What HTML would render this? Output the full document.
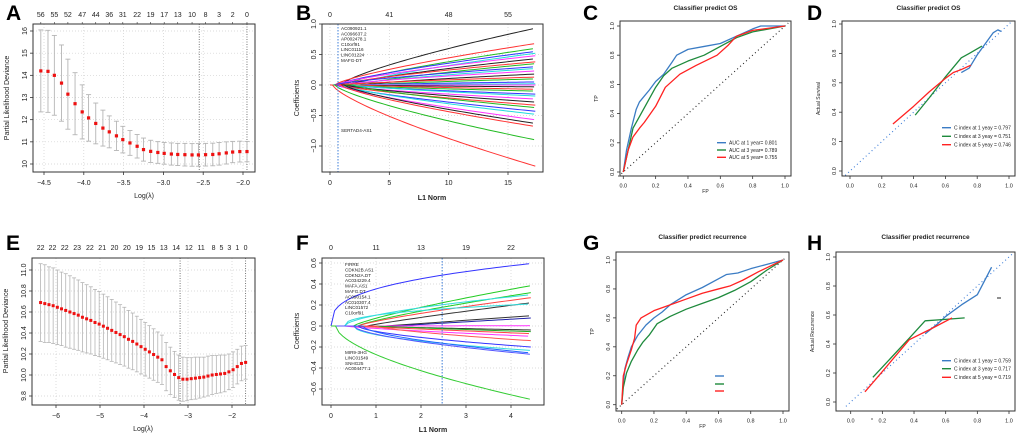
<!DOCTYPE html>
<html><head><meta charset="utf-8"><style>
html,body{margin:0;padding:0;background:#fff;}
svg{display:block;font-family:"Liberation Sans",Arial,sans-serif;}
</style></head><body>
<svg id="fig" width="1020" height="437" viewBox="0 0 1020 437" xmlns="http://www.w3.org/2000/svg"></svg>
<script>
// ---------- data ----------
const aLogLambda=[-4.54,-4.45,-4.37,-4.28,-4.20,-4.11,-4.02,-3.94,-3.85,-3.76,-3.68,-3.59,-3.51,-3.42,-3.33,-3.25,-3.16,-3.07,-2.99,-2.90,-2.82,-2.73,-2.64,-2.56,-2.47,-2.38,-2.30,-2.21,-2.13,-2.04,-1.95];
const aMean=[14.2,14.18,14.0,13.65,13.15,12.72,12.35,12.08,11.83,11.62,11.45,11.27,11.1,10.95,10.8,10.65,10.57,10.52,10.48,10.45,10.43,10.42,10.41,10.41,10.42,10.43,10.46,10.5,10.54,10.56,10.56];
const aSE=[1.85,1.85,1.8,1.72,1.58,1.4,1.22,1.05,0.92,0.81,0.72,0.66,0.6,0.56,0.53,0.52,0.5,0.49,0.49,0.5,0.5,0.51,0.51,0.51,0.51,0.51,0.51,0.5,0.48,0.47,0.46];
const aTop=['56','55','52','47','44','36','31','22','19','17','13','10','8','3','2','0'];
const aXTicks=[-4.5,-4.0,-3.5,-3.0,-2.5,-2.0];
const aYTicks=[10,11,12,13,14,15,16];
const aVlines=[-2.55,-1.95];

const bEnds=[0.93,0.68,0.6,0.55,0.52,0.48,0.43,0.38,0.35,0.3,0.27,0.23,0.18,0.13,0.1,0.05,0.02,0,-0.03,-0.07,-0.1,-0.15,-0.18,-0.23,-0.28,-0.33,-0.37,-0.43,-0.48,-0.57,-0.63,-0.68,-0.9,-1.33];
const bStarts=[0.9,0.4,1.2,0.6,2.0,0.5,1.5,0.8,2.5,0.3,1.8,1.0,2.8,0.7,3.0,2.2,1.4,2.6,1.6,2.4,0.9,1.1,2.0,0.6,1.3,0.8,1.9,0.5,1.0,0.7,1.2,0.9,0.4,0.2];
const bGenes=['AC090921.1','AC096637.2','AP002478.1','C10orf91','LINC01116','LINC01224','MAFG-DT'];
const bTop=['0','41','48','55'];

const eMean=[10.69,10.68,10.67,10.66,10.645,10.63,10.615,10.60,10.585,10.57,10.55,10.535,10.52,10.50,10.485,10.465,10.445,10.425,10.405,10.385,10.365,10.34,10.32,10.295,10.27,10.245,10.22,10.195,10.17,10.145,10.08,10.04,10.005,9.975,9.96,9.96,9.965,9.97,9.975,9.98,9.99,10.0,10.005,10.01,10.015,10.03,10.05,10.08,10.11,10.12];
const eSE=[0.37,0.37,0.36,0.36,0.355,0.35,0.35,0.345,0.34,0.335,0.33,0.325,0.32,0.315,0.31,0.305,0.3,0.295,0.29,0.285,0.28,0.275,0.27,0.265,0.26,0.255,0.25,0.245,0.24,0.235,0.23,0.225,0.22,0.215,0.21,0.205,0.2,0.2,0.195,0.19,0.19,0.185,0.18,0.18,0.175,0.17,0.17,0.165,0.165,0.16];
const eStart=-6.35, eStep=0.0951;
const eTopPos=[-6.35,-6.08,-5.80,-5.52,-5.23,-4.95,-4.67,-4.39,-4.11,-3.83,-3.55,-3.27,-2.98,-2.70,-2.42,-2.24,-2.06,-1.88,-1.69];
const eTop=['22','22','22','23','22','21','20','20','19','15','13','14','12','11','8','5','3','1','0'];
const eXTicks=[-6,-5,-4,-3,-2];
const eYTicks=[9.8,10.0,10.2,10.4,10.6,10.8,11.0];
const eVlines=[-3.18,-1.69];

const fEnds=[0.595,0.385,0.318,0.298,0.27,0.222,0.21,0.098,0.076,0.003,-0.038,-0.054,-0.073,-0.098,-0.14,-0.2,-0.233,-0.257,-0.27,-0.7];
const fStarts=[0,0.5,0.6,0.3,0.6,0.8,0.3,1.2,1.4,0.5,0.6,1.0,0.4,0.3,1.0,0.6,0.5,0.7,0.5,0.1];
const fPow=[0.35,0.8,0.8,0.6,0.8,0.9,0.4,1,1,1,0.9,0.9,1,0.8,0.7,0.6,0.5,0.6,0.6,0.6];
const fColors=['#3333ff','#22cc22','#22cc22','#33dddd','#ff4444','#333333','#33dddd','#333333','#2222aa','#ff33ff','#333333','#22aa22','#ff4444','#ff33ff','#ff5555','#3333ff','#33dddd','#2266ff','#5555ff','#33cc33'];
const fGenes1=['FIRRE','CDKN2B.AS1','CDKN2A.DT','AC034229.4','MAFA.AS1','MAFG.DT','AC090154.1','AC010307.4','LINC01572','C10orf91'];
const fGenes2=['MIR9-3HG','LINC01549','SNHG25','AC004477.1'];
const fTop=['0','11','13','19','22'];

const cBlueFP=[0,0.02,0.05,0.08,0.1,0.13,0.16,0.2,0.25,0.3,0.33,0.4,0.5,0.6,0.7,0.8,0.85,1];
const cBlueTP=[0,0.15,0.3,0.43,0.48,0.52,0.56,0.62,0.67,0.75,0.8,0.84,0.86,0.88,0.93,0.98,1,1];
const cGreenFP=[0,0.03,0.06,0.1,0.15,0.2,0.25,0.3,0.4,0.5,0.6,0.7,0.8,1];
const cGreenTP=[0,0.15,0.3,0.38,0.48,0.58,0.66,0.71,0.76,0.8,0.86,0.92,0.96,1];
const cRedFP=[0,0.03,0.06,0.1,0.13,0.2,0.26,0.35,0.45,0.58,0.65,0.7,0.8,1];
const cRedTP=[0,0.15,0.24,0.3,0.34,0.45,0.58,0.67,0.73,0.8,0.87,0.93,0.97,1];
const cLegend=['AUC at 1 year= 0.801','AUC at 3 year= 0.789','AUC at 5 year= 0.755'];

const dBlueX=[0.7,0.75,0.8,0.9,0.93,0.95], dBlueY=[0.67,0.7,0.79,0.94,0.96,0.95];
const dGreenX=[0.41,0.5,0.6,0.7,0.75,0.83], dGreenY=[0.38,0.5,0.64,0.77,0.8,0.85];
const dRedX=[0.27,0.4,0.5,0.6,0.65,0.7,0.76], dRedY=[0.32,0.44,0.54,0.63,0.67,0.69,0.72];
const dLegend=['C index at 1 yeay = 0.797','C index at 3 yeay = 0.751','C index at 5 yeay = 0.746'];

const gBlueFP=[0,0.01,0.02,0.04,0.06,0.1,0.15,0.2,0.25,0.3,0.4,0.5,0.6,0.65,0.72,0.8,0.9,1];
const gBlueTP=[0,0.15,0.25,0.33,0.4,0.48,0.55,0.6,0.64,0.69,0.76,0.81,0.87,0.9,0.91,0.94,0.97,1];
const gGreenFP=[0,0.01,0.03,0.06,0.1,0.13,0.17,0.22,0.3,0.4,0.5,0.6,0.7,0.8,0.9,1];
const gGreenTP=[0,0.12,0.22,0.3,0.38,0.43,0.48,0.56,0.61,0.66,0.7,0.74,0.79,0.85,0.93,1];
const gRedFP=[0,0.01,0.03,0.06,0.08,0.09,0.12,0.2,0.3,0.4,0.5,0.6,0.67,0.75,0.85,1];
const gRedTP=[0,0.2,0.28,0.38,0.46,0.55,0.6,0.65,0.69,0.73,0.77,0.8,0.82,0.86,0.92,1];

const hBlueX=[0.47,0.55,0.6,0.7,0.8,0.89], hBlueY=[0.47,0.54,0.59,0.67,0.74,0.93];
const hGreenX=[0.14,0.37,0.47,0.6,0.72], hGreenY=[0.17,0.44,0.56,0.57,0.58];
const hRedX=[0.09,0.2,0.37,0.5,0.64], hRedY=[0.07,0.21,0.43,0.5,0.58];
const hLegend=['C index at 1 yeay = 0.759','C index at 3 yeay = 0.717','C index at 5 yeay = 0.719'];

const unitTicks=[0,0.2,0.4,0.6,0.8,1.0];

// ---------- helpers ----------
const NS='http://www.w3.org/2000/svg';
const svg=document.getElementById('fig');
function el(tag,attrs,name){
  const e=document.createElementNS(NS,tag);
  for(const k in attrs) e.setAttribute(k,attrs[k]);
  
  
  svg.appendChild(e); return e;
}
function tx(x,y,s,size,name,o){
  o=o||{};
  const e=el('text',{x:x,y:y,'font-size':size,'text-anchor':o.anchor||'middle',fill:o.fill||'#222','font-weight':o.bold?'bold':'normal'},name);
  if(o.rot) e.setAttribute('transform','rotate(-90 '+x+' '+y+')');
  e.textContent=s; return e;
}
function lin(d0,d1,p0,p1){return v=>p0+(v-d0)*(p1-p0)/(d1-d0);}
function frame(b,name){el('rect',{x:b.l,y:b.t,width:b.r-b.l,height:b.b-b.t,fill:'none',stroke:'#333','stroke-width':1},name);}
function xAxis(b,sx,ticks,labels,fs,name,grid){
  ticks.forEach((v,i)=>{const x=sx(v);
    el('line',{x1:x,x2:x,y1:b.b,y2:b.b+3,stroke:'#333','stroke-width':0.8},name+'-tick');
    tx(x,b.b+fs+6,labels[i],fs,name+'-label');
    if(grid) el('line',{x1:x,x2:x,y1:b.t,y2:b.b,stroke:'#cfcfcf','stroke-width':0.7,'stroke-dasharray':'1,2'},name+'-grid');});
}
function yAxis(b,sy,ticks,labels,fs,name,grid){
  ticks.forEach((v,i)=>{const y=sy(v);
    el('line',{x1:b.l-3,x2:b.l,y1:y,y2:y,stroke:'#333','stroke-width':0.8},name+'-tick');
    tx(b.l-6,y,labels[i],fs,name+'-label',{rot:true});
    if(grid) el('line',{x1:b.l,x2:b.r,y1:y,y2:y,stroke:'#cfcfcf','stroke-width':0.7,'stroke-dasharray':'1,2'},name+'-grid');});
}
function poly(xs,ys,sx,sy,color,w,name){
  el('polyline',{points:xs.map((x,i)=>sx(x)+','+sy(ys[i])).join(' '),fill:'none',stroke:color,'stroke-width':w,'stroke-linejoin':'round'},name);
}
const BLUE='#3b7cc4',GREEN='#1e8a3c',RED='#ff2222';

// ---------- panel letters ----------
[['A',6,20],['B',296,20],['C',583,20],['D',807,20],['E',6,250],['F',296,250],['G',583,250],['H',807,250]].forEach(p=>{
  tx(p[1],p[2],p[0],21,'panel-letter-'+p[0].toLowerCase(),{anchor:'start',bold:true,fill:'#000'});
});

// ---------- Panel A ----------
(function(){
  const b={l:33,r:255,t:24,b:172};
  const sx=lin(-4.5,-2.0,44,243), sy=lin(10,16,164,31);
  xAxis(b,sx,aXTicks,aXTicks.map(v=>v.toFixed(1).replace('-','−')),7,'a-x-axis',true);
  yAxis(b,sy,aYTicks,aYTicks.map(String),7,'a-y-axis',true);
  aVlines.forEach(v=>el('line',{x1:sx(v),x2:sx(v),y1:b.t,y2:b.b,stroke:'#555','stroke-width':0.8,'stroke-dasharray':'1,1.5'},'a-lambda-line'));
  aLogLambda.forEach((x,i)=>{
    const X=sx(x),hi=sy(aMean[i]+aSE[i]),lo=sy(aMean[i]-aSE[i]);
    el('line',{x1:X,x2:X,y1:hi,y2:lo,stroke:'#b5b5b5','stroke-width':0.9},'a-error-bar');
    el('line',{x1:X-2.5,x2:X+2.5,y1:hi,y2:hi,stroke:'#b5b5b5','stroke-width':0.9},'a-error-cap');
    el('line',{x1:X-2.5,x2:X+2.5,y1:lo,y2:lo,stroke:'#b5b5b5','stroke-width':0.9},'a-error-cap');
    el('rect',{x:X-1.6,y:sy(aMean[i])-1.6,width:3.2,height:3.2,fill:'#ee1111'},'a-point');
  });
  aTop.forEach((s,i)=>{const x=sx(aLogLambda[i*2]); tx(x,17,s,7,'a-top-label');
    el('line',{x1:x,x2:x,y1:b.t,y2:b.t-2,stroke:'#333','stroke-width':0.6},'a-top-tick');});
  frame(b,'a-plot-frame');
  tx(9,98,'Partial Likelihood Deviance',7,'a-y-axis-title',{rot:true});
  tx(144,198,'Log(λ)',7,'a-x-axis-title');
})();

// ---------- Panel B ----------
(function(){
  const b={l:322,r:543,t:24,b:172};
  const sx=lin(0,15,330,508), sy=lin(0,1,85,24);
  const T=17.3;
  xAxis(b,sx,[0,5,10,15],['0','5','10','15'],7,'b-x-axis',true);
  yAxis(b,sy,[-1,-0.5,0,0.5,1],['−1.0','−0.5','0.0','0.5','1.0'],7,'b-y-axis',true);
  const cols=['#222222','#ff3333','#22bb22','#3333ff','#22dddd','#ff33ff'];
  bEnds.forEach((e,i)=>{
    const s=bStarts[i]; const pts=[sx(0)+','+sy(0)];
    for(let t=s;t<=T+0.01;t+=0.3){const f=Math.pow((t-s)/(T-s),0.75); pts.push(sx(t)+','+sy(e*f));}
    el('polyline',{points:pts.join(' '),fill:'none',stroke:i===bEnds.length-1?'#ff3333':cols[i%6],'stroke-width':1},'b-coef-path');
  });
  el('line',{x1:338,x2:338,y1:b.t,y2:b.b,stroke:'#3b7cd8','stroke-width':1,'stroke-dasharray':'1.5,1.5'},'b-lambda-line');
  bGenes.forEach((g,i)=>tx(341,30+i*5.3,g,4.6,'b-gene-label',{anchor:'start'}));
  tx(341,132,'SERTAD4-AS1',4.6,'b-gene-label',{anchor:'start'});
  bTop.forEach((s,i)=>{tx(sx(i*5),17,s,7,'b-top-label');});
  frame(b,'b-plot-frame');
  tx(299,98,'Coefficients',7,'b-y-axis-title',{rot:true});
  tx(432,200,'L1 Norm',7,'b-x-axis-title',{bold:true});
})();

// ---------- Panel E ----------
(function(){
  const b={l:32,r:255,t:258,b:405};
  const sx=lin(-6,-2,56,232), sy=lin(9.8,11.0,396,270);
  xAxis(b,sx,eXTicks,eXTicks.map(v=>'−'+Math.abs(v)),7,'e-x-axis',true);
  yAxis(b,sy,eYTicks,eYTicks.map(v=>v.toFixed(1)),7,'e-y-axis',true);
  eVlines.forEach(v=>el('line',{x1:sx(v),x2:sx(v),y1:b.t,y2:b.b,stroke:'#555','stroke-width':0.8,'stroke-dasharray':'1,1.5'},'e-lambda-line'));
  eMean.forEach((m,i)=>{
    const X=sx(eStart+i*eStep),hi=sy(m+eSE[i]),lo=sy(m-eSE[i]);
    el('line',{x1:X,x2:X,y1:hi,y2:lo,stroke:'#b5b5b5','stroke-width':0.8},'e-error-bar');
    el('line',{x1:X-2,x2:X+2,y1:hi,y2:hi,stroke:'#b5b5b5','stroke-width':0.8},'e-error-cap');
    el('line',{x1:X-2,x2:X+2,y1:lo,y2:lo,stroke:'#b5b5b5','stroke-width':0.8},'e-error-cap');
    el('rect',{x:X-1.5,y:sy(m)-1.5,width:3,height:3,fill:'#ee1111'},'e-point');
  });
  eTop.forEach((s,i)=>tx(sx(eTopPos[i]),250,s,7,'e-top-label'));
  frame(b,'e-plot-frame');
  tx(8,331,'Partial Likelihood Deviance',7,'e-y-axis-title',{rot:true});
  tx(143,431,'Log(λ)',7,'e-x-axis-title');
})();

// ---------- Panel F ----------
(function(){
  const b={l:322,r:544,t:258,b:405};
  const sx=lin(0,1,331,376), sy=lin(0,0.2,326,305);
  const T=4.45;
  xAxis(b,sx,[0,1,2,3,4],['0','1','2','3','4'],7,'f-x-axis',true);
  yAxis(b,sy,[-0.6,-0.4,-0.2,0,0.2,0.4,0.6],['−0.6','−0.4','−0.2','0.0','0.2','0.4','0.6'],7,'f-y-axis',true);
  fEnds.forEach((e,i)=>{
    const s=fStarts[i]; const pts=[sx(0)+','+sy(0)];
    for(let t=s;t<=T+0.01;t+=0.08){const f=Math.pow((t-s)/(T-s),fPow[i]); pts.push(sx(t)+','+sy(e*f));}
    el('polyline',{points:pts.join(' '),fill:'none',stroke:fColors[i],'stroke-width':1},'f-coef-path');
  });
  el('line',{x1:sx(2.47),x2:sx(2.47),y1:b.t,y2:b.b,stroke:'#3b7cd8','stroke-width':1,'stroke-dasharray':'1.5,1.5'},'f-lambda-line');
  fGenes1.forEach((g,i)=>tx(345,266+i*5.4,g,4.6,'f-gene-label',{anchor:'start'}));
  fGenes2.forEach((g,i)=>tx(345,354+i*5.4,g,4.6,'f-gene-label',{anchor:'start'}));
  fTop.forEach((s,i)=>tx(sx(i),250,s,7,'f-top-label'));
  frame(b,'f-plot-frame');
  tx(299,331,'Coefficients',7,'f-y-axis-title',{rot:true});
  tx(433,432,'L1 Norm',7,'f-x-axis-title',{bold:true});
})();

// ---------- ROC / calibration panels ----------
function smallPanel(p){
  const b=p.box, sx=lin(0,1,p.x0,p.x1), sy=lin(0,1,p.y0,p.y1);
  xAxis(b,sx,unitTicks,unitTicks.map(v=>v.toFixed(1)),5.5,p.id+'-x-axis',false);
  yAxis(b,sy,unitTicks,unitTicks.map(v=>v.toFixed(1)),5.5,p.id+'-y-axis',false);
  el('line',{x1:sx(-0.03),y1:sy(-0.03),x2:sx(1.02),y2:sy(1.02),stroke:p.diag,'stroke-width':1.1,'stroke-dasharray':'1,3'},p.id+'-diagonal');
  p.series.forEach(s=>poly(s[0],s[1],sx,sy,s[2],1.3,p.id+'-'+s[3]+'-curve'));
  frame(b,p.id+'-plot-frame');
  tx((b.l+b.r)/2,p.titleY,p.title,6.5,p.id+'-title',{bold:true});
  if(p.xl) tx((b.l+b.r)/2,b.b+17,p.xl,5,p.id+'-x-axis-title');
  tx(b.l-22,(b.t+b.b)/2,p.yl,5,p.id+'-y-axis-title',{rot:true});
  const cols=[BLUE,GREEN,RED];
  p.leg.forEach((s,i)=>{const y=p.legY[i];
    el('line',{x1:p.legX,x2:p.legX+9,y1:y,y2:y,stroke:cols[i],'stroke-width':1.4},p.id+'-legend-swatch');
    if(s) tx(p.legX+12,y+1.8,s,5,p.id+'-legend-entry',{anchor:'start'});});
}
smallPanel({id:'c',box:{l:620,r:791,t:21,b:176},x0:623.3,x1:785,y0:172,y1:26,diag:'#222',
  series:[[cBlueFP,cBlueTP,BLUE,'blue'],[cGreenFP,cGreenTP,GREEN,'green'],[cRedFP,cRedTP,RED,'red']],
  title:'Classifier predict OS',titleY:10,xl:'FP',yl:'TP',leg:cLegend,legX:717,legY:[142.7,150,157.3]});
smallPanel({id:'d',box:{l:842,r:1015,t:21,b:176},x0:850,x1:1009,y0:171,y1:24,diag:'#3b7cd8',
  series:[[dBlueX,dBlueY,BLUE,'blue'],[dGreenX,dGreenY,GREEN,'green'],[dRedX,dRedY,RED,'red']],
  title:'Classifier predict OS',titleY:10,xl:'',yl:'Actual Survival',leg:dLegend,legX:942,legY:[127.7,136.3,144.7]});
smallPanel({id:'g',box:{l:616,r:789,t:252,b:411},x0:621.7,x1:783,y0:404.7,y1:260,diag:'#222',
  series:[[gBlueFP,gBlueTP,BLUE,'blue'],[gGreenFP,gGreenTP,GREEN,'green'],[gRedFP,gRedTP,RED,'red']],
  title:'Classifier predict recurrence',titleY:239,xl:'FP',yl:'TP',leg:['','',''],legX:715,legY:[376,384,391]});
smallPanel({id:'h',box:{l:836,r:1015,t:252,b:411},x0:850.7,x1:1009,y0:402,y1:257,diag:'#3b7cd8',
  series:[[hBlueX,hBlueY,BLUE,'blue'],[hGreenX,hGreenY,GREEN,'green'],[hRedX,hRedY,RED,'red']],
  title:'Classifier predict recurrence',titleY:239,xl:'',yl:'Actual Recurrence',leg:hLegend,legX:942,legY:[360.7,368.7,377.3]});
el('line',{x1:997,x2:1001,y1:298,y2:298,stroke:'#222','stroke-width':1},'h-stray-mark');
tx(872,420,'ıı',4,'h-stray-label');
</script>
</body></html>
